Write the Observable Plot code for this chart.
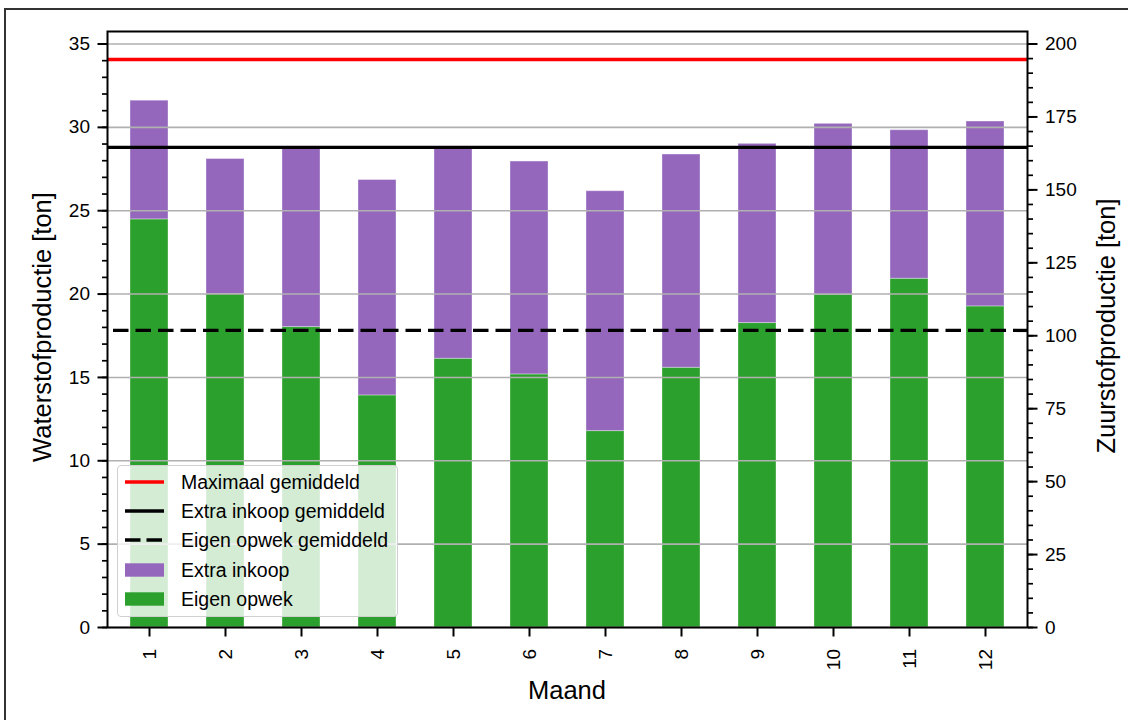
<!DOCTYPE html>
<html><head><meta charset="utf-8">
<script src="https://cdn.jsdelivr.net/npm/d3@7"></script>
<script src="https://cdn.jsdelivr.net/npm/@observablehq/plot@0.6"></script>
<style>
body{margin:0;background:#fff;overflow:hidden;font-family:"Liberation Sans",Arial,Helvetica,sans-serif;}
#wrap{position:relative;width:1128px;height:720px;overflow:hidden;background:#fff;}
#chart{position:absolute;left:0;top:0;}
#border{position:absolute;left:4px;top:8px;width:1200px;height:800px;border:2px solid #333;box-sizing:border-box;pointer-events:none;}
#legend{position:absolute;left:117px;top:465px;width:281px;height:152px;box-sizing:border-box;background:rgba(255,255,255,0.8);border:1px solid #d0d0d0;border-radius:4px;}
.row{position:absolute;left:0;height:24px;width:280px;}
.row svg{position:absolute;left:7px;top:0;}
.row span{position:absolute;left:63px;top:0;line-height:24px;font-size:19.5px;color:#000;white-space:nowrap;}
.title{position:absolute;font-size:25.5px;color:#000;white-space:nowrap;line-height:26px;}
</style></head><body>
<div id="wrap"><div id="chart"></div><div id="legend"></div>
<div class="title" id="tl">Waterstofproductie [ton]</div>
<div class="title" id="tr">Zuurstofproductie [ton]</div>
<div class="title" id="tb">Maand</div>
<div id="border"></div></div>
<script>
// ---- data (ton waterstof) ----
const maanden = [1, 2, 3, 4, 5, 6, 7, 8, 9, 10, 11, 12];
const eigenOpwek = [24.48, 20.0, 18.02, 13.92, 16.12, 15.18, 11.78, 15.58, 18.26, 19.96, 20.92, 19.26];
const extraInkoop = [7.12, 8.1, 10.78, 12.92, 12.68, 12.77, 14.39, 12.79, 10.75, 10.25, 8.91, 11.09];
const series = ["Eigen opwek", "Extra inkoop"];
const seriesColors = ["#2ca02c", "#9467bd"];
const maximaalGemiddeld = 34.07;
const extraInkoopGemiddeld = 28.8;
const eigenOpwekGemiddeld = 17.82;
const h2Ticks = [0, 5, 10, 15, 20, 25, 30, 35];
const h2Minor = d3.range(0, 36, 1);
const o2Ticks = [0, 25, 50, 75, 100, 125, 150, 175, 200];
const o2Minor = d3.range(0, 201, 5);
const o2PerH2 = 200 / 35;

const rows = [];
maanden.forEach((m, i) => {
  rows.push({maand: m, serie: series[0], waarde: eigenOpwek[i]});
  rows.push({maand: m, serie: series[1], waarde: extraInkoop[i]});
});

const chart = Plot.plot({
  width: 1128, height: 720,
  marginLeft: 107, marginRight: 101, marginTop: 31, marginBottom: 93,
  style: {fontFamily: '"Liberation Sans", Arial, sans-serif', fontSize: "19px", color: "#000", background: "transparent"},
  x: {type: "band", domain: maanden, paddingInner: 0.5, paddingOuter: 0.25},
  y: {domain: [0, 35.75]},
  color: {domain: series, range: seriesColors},
  marks: [
    Plot.barY(rows, {x: "maand", y: "waarde", fill: "serie", order: series, stroke: "white", strokeOpacity: 0.35, strokeWidth: 1}),
    Plot.gridY(h2Ticks, {stroke: "#b0b0b0", strokeOpacity: 1, strokeWidth: 1.6}),
    Plot.ruleY([maximaalGemiddeld], {stroke: "#ff0000", strokeWidth: 3.3}),
    Plot.ruleY([extraInkoopGemiddeld], {stroke: "#000", strokeWidth: 3.3}),
    Plot.ruleY([eigenOpwekGemiddeld], {stroke: "#000", strokeWidth: 3.3, strokeDasharray: "15.5,7", strokeDashoffset: -6}),
    Plot.axisY(h2Minor, {anchor: "left", tickSize: 5, strokeWidth: 1.7, tickFormat: () => "", label: null}),
    Plot.axisY(h2Ticks, {anchor: "left", tickSize: 9.5, tickPadding: 8, strokeWidth: 2, label: null}),
    Plot.axisY(o2Minor.map(v => v / o2PerH2), {anchor: "right", tickSize: 5, strokeWidth: 1.7, tickFormat: () => "", label: null}),
    Plot.axisY(o2Ticks.map(v => v / o2PerH2), {anchor: "right", tickSize: 9.5, tickPadding: 8, strokeWidth: 2, tickFormat: d => String(Math.round(d * o2PerH2)), label: null}),
    Plot.axisX({tickSize: 9.5, tickPadding: 12, tickRotate: -90, strokeWidth: 2, label: null}),
    Plot.frame({stroke: "#000", strokeWidth: 2})
  ]
});
document.getElementById("chart").appendChild(chart);

// ---- legend ----
const legendItems = [
  {label: "Maximaal gemiddeld", kind: "line", color: "#ff0000", dash: null},
  {label: "Extra inkoop gemiddeld", kind: "line", color: "#000", dash: null},
  {label: "Eigen opwek gemiddeld", kind: "line", color: "#000", dash: "15.5,6"},
  {label: "Extra inkoop", kind: "patch", color: seriesColors[1]},
  {label: "Eigen opwek", kind: "patch", color: seriesColors[0]}
];
const leg = document.getElementById("legend");
legendItems.forEach((it, i) => {
  const row = document.createElement("div");
  row.className = "row";
  row.style.top = (4 + i * 29.2) + "px";
  const handle = it.kind === "line"
    ? `<line x1="0" x2="39" y1="12" y2="12" stroke="${it.color}" stroke-width="3.3" ${it.dash ? `stroke-dasharray="${it.dash}"` : ""}/>`
    : `<rect x="0" y="5.3" width="39" height="13.4" fill="${it.color}"/>`;
  row.innerHTML = `<svg width="40" height="24">${handle}</svg><span>${it.label}</span>`;
  leg.appendChild(row);
});

// ---- axis titles ----
function place(id, cx, cy, rot) {
  const el = document.getElementById(id);
  el.style.left = cx + "px";
  el.style.top = cy + "px";
  el.style.transform = `translate(-50%,-50%)${rot ? " rotate(-90deg)" : ""}`;
}
place("tl", 42, 327, true);
place("tr", 1106, 326, true);
place("tb", 567, 690, false);
</script>
</body></html>
